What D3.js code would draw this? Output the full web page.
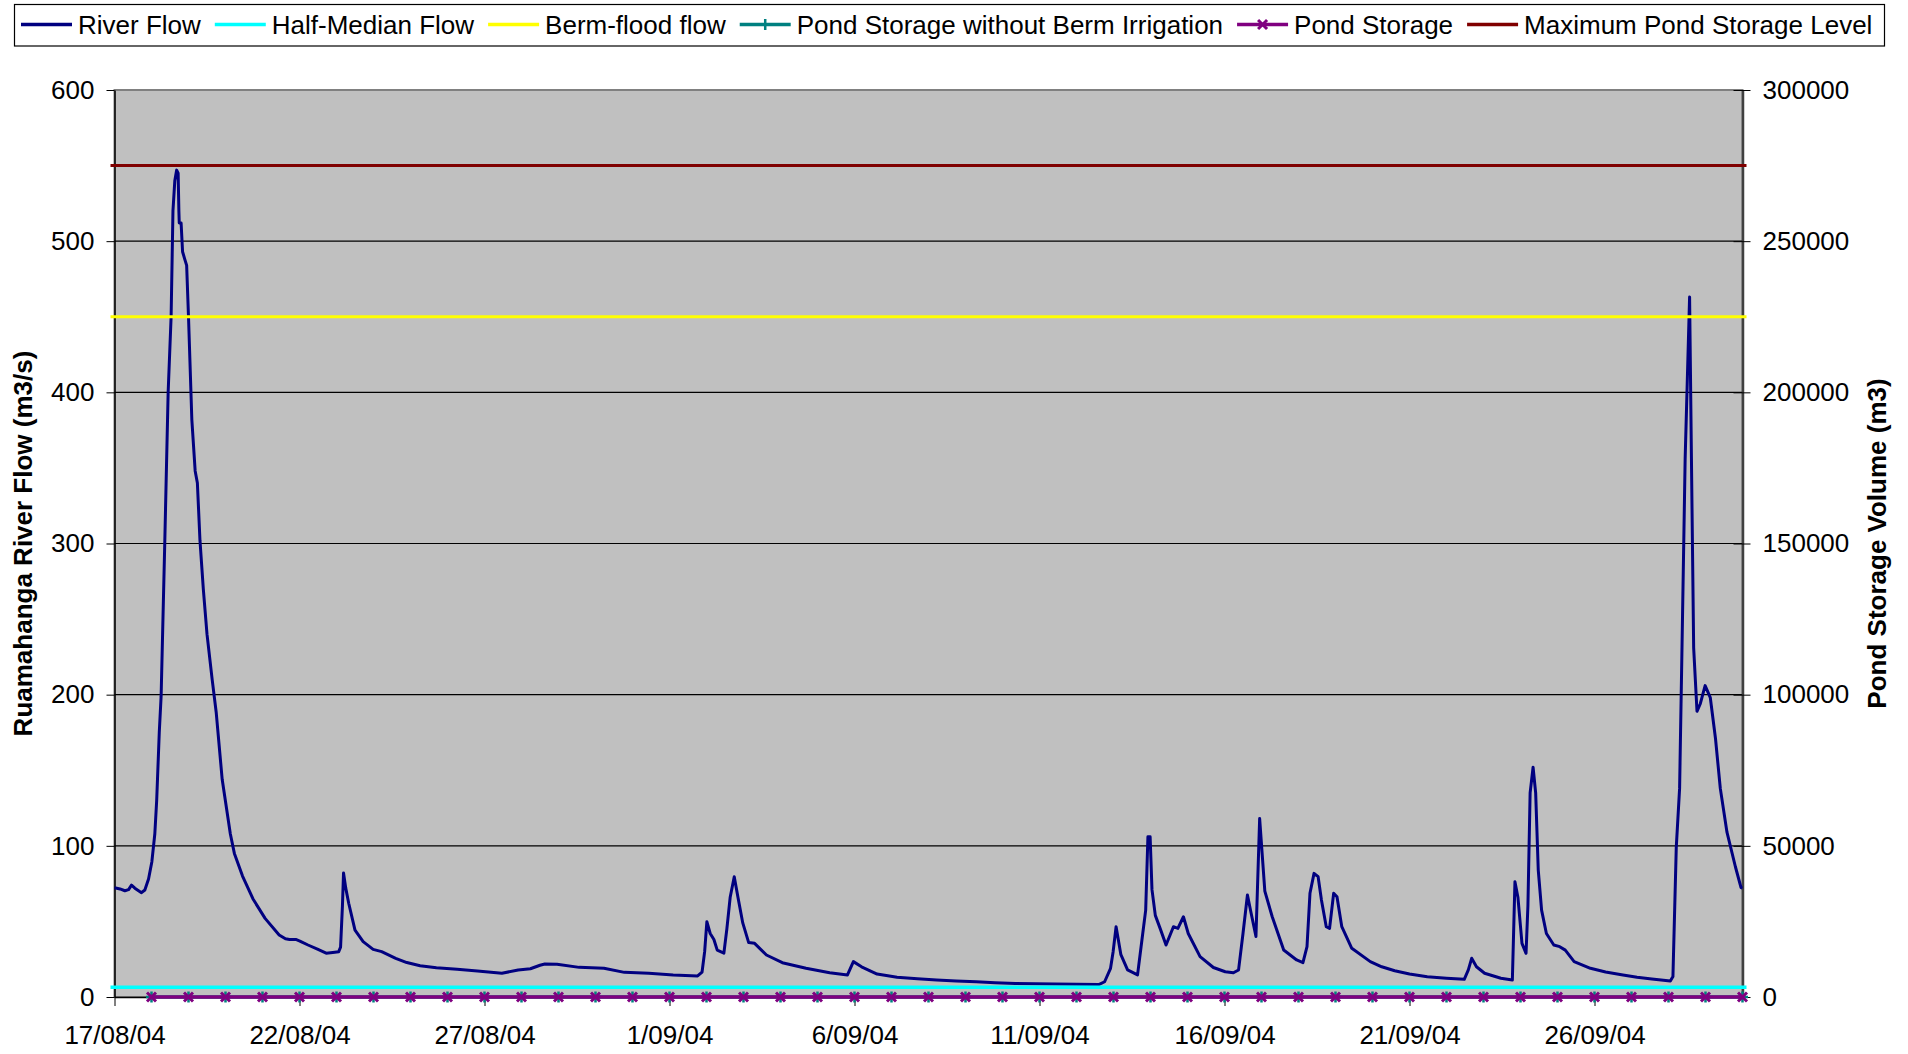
<!DOCTYPE html>
<html>
<head>
<meta charset="utf-8">
<script src="https://cdn.jsdelivr.net/npm/d3@7"></script>
<style>
body{margin:0;background:#ffffff;}
text{font-family:"Liberation Sans",Arial,sans-serif;}
</style>
</head>
<body>
<svg id="chart" width="1908" height="1054"></svg>
<script>
// chart values
var startDate = "17/08/04";
var endDate = "30/09/04";
var xTickLabels = ["17/08/04","22/08/04","27/08/04","1/09/04","6/09/04","11/09/04","16/09/04","21/09/04","26/09/04"];
var flowTicks = [0,100,200,300,400,500,600];
var storageTicks = [0,50000,100000,150000,200000,250000,300000];

// river flow, days after 17/08/04 and m3/s
var riverDay = [0,0.15,0.28,0.38,0.46,0.55,0.73,0.82,0.92,1.01,1.09,1.14,1.21,1.26,1.36,1.45,1.53,1.58,1.63,1.68,1.72,1.74,1.75,1.80,1.84,1.90,1.95,2.00,2.09,2.18,2.24,2.31,2.40,2.50,2.64,2.75,2.91,3.13,3.24,3.46,3.74,4.07,4.45,4.62,4.73,4.90,5.01,5.23,5.50,5.72,5.90,6.06,6.11,6.16,6.19,6.25,6.33,6.50,6.72,6.99,7.22,7.60,7.90,8.26,8.70,9.26,9.81,10.47,10.91,11.24,11.50,11.63,11.96,12.56,13.23,13.78,14.44,15.10,15.76,15.88,15.95,16.01,16.10,16.20,16.29,16.47,16.55,16.64,16.75,16.85,16.98,17.14,17.30,17.62,18.05,18.69,19.33,19.81,19.97,20.19,20.61,21.15,21.70,22.22,22.75,23.29,23.80,24.35,24.90,25.42,26.00,26.60,26.76,26.92,26.99,27.07,27.20,27.38,27.65,27.77,27.87,27.93,27.99,28.04,28.13,28.26,28.42,28.62,28.74,28.89,29.02,29.34,29.70,30.02,30.24,30.38,30.50,30.62,30.72,30.85,30.95,31.09,31.29,31.60,31.95,32.12,32.23,32.31,32.42,32.53,32.62,32.75,32.84,32.95,33.04,33.17,33.44,33.94,34.25,34.60,35.00,35.48,36.00,36.48,36.59,36.68,36.81,37.03,37.47,37.78,37.85,37.93,38.04,38.15,38.20,38.26,38.34,38.41,38.48,38.57,38.70,38.90,39.06,39.21,39.45,39.89,40.30,40.77,41.15,41.55,42.05,42.12,42.21,42.30,42.36,42.45,42.57,42.62,42.68,42.77,42.86,42.99,43.13,43.27,43.40,43.58,43.81,43.96,44.00];
var riverFlow = [72.3,71.5,70.3,71,74,72,69,70.8,78,89.5,108,130,175,199,302,400,450,520,540,547,545,520,512,512,493,488,484,450,382,348,340,302,270,240,210,188,144,108,95,80,65,52,41,38.5,38.1,38.1,37,34.4,31.5,29,29.5,30,33,60,82,72,62,44.3,36.6,31.5,30,25.6,22.8,20.7,19.4,18.3,17.2,15.7,17.9,18.7,21,21.8,21.6,19.6,19,16.3,15.7,14.6,13.9,16.5,30,49.8,42,38,31,29,45,66,79.6,66,49,36,35.5,27.8,22.7,19,16,14.6,23.4,20,15.2,13,12,11.2,10.6,10.1,9.5,9,8.8,8.6,8.4,8.2,10.1,19,30,46.5,28,17.9,14.6,38,57.5,106,106,71,54,45.4,34.4,46.5,45.4,53.1,42,26.7,19.5,16.7,16,17.9,42,67.5,55.4,40,118,70,53.1,31.1,24.5,22.7,33.3,68.6,81.8,79.6,64.2,46.5,45.4,68.6,66.3,46.5,32.2,23.4,20,17.4,15.2,13.4,12.4,11.7,17.9,25.6,20,15.7,12.4,11.2,76.3,66,35.5,28.9,60,135,152,135,84,57.5,42,34.4,33.3,31,23.4,19,16.5,14.6,13.1,11.9,10.6,13.5,99,138,224,356,463,356,231,189,194,206,198,171,138,109,86,72.4,72];

var halfMedianFlow = 6.4;
var bermFloodFlow = 450;
var maxPondStorage = 275000;
// daily pond storage, 18/08/04 to 30/09/04 (m3)
var pondStorage = [0,0,0,0,0,0,0,0,0,0,0,0,0,0,0,0,0,0,0,0,0,0,0,0,0,0,0,0,0,0,0,0,0,0,0,0,0,0,0,0,0,0,0,0];
var pondStorageNoBerm = [0,0,0,0,0,0,0,0,0,0,0,0,0,0,0,0,0,0,0,0,0,0,0,0,0,0,0,0,0,0,0,0,0,0,0,0,0,0,0,0,0,0,0,0];

var legendNames = ["River Flow","Half-Median Flow","Berm-flood flow","Pond Storage without Berm Irrigation","Pond Storage","Maximum Pond Storage Level"];
var legendColors = ["#000080","#00ffff","#ffff00","#008080","#800080","#800000"];
var legendMarkers = ["","","","plus","cross",""];

var parseDay = d3.timeParse("%d/%m/%y");
var fmtDay = d3.timeFormat("%-d/%m/%y");
var t0 = parseDay(startDate);
var t1 = parseDay(endDate);

var plotL = 114.5, plotR = 1742.5, plotT = 90, plotB = 997;
var svg = d3.select("#chart");

var x = d3.scaleTime().domain([t0,t1]).range([plotL,plotR]);
var yL = d3.scaleLinear().domain([0,600]).range([plotB,plotT]);
var yR = d3.scaleLinear().domain([0,300000]).range([plotB,plotT]);

// plot area
svg.append("rect").attr("x",plotL).attr("y",plotT).attr("width",plotR-plotL).attr("height",plotB-plotT)
  .attr("fill","#c0c0c0").attr("stroke","#808080").attr("stroke-width",2);

// grid
svg.append("g").selectAll("line").data(flowTicks.filter(d=>d>0 && d<600)).enter().append("line")
  .attr("x1",plotL).attr("x2",plotR).attr("y1",d=>yL(d)).attr("y2",d=>yL(d))
  .attr("stroke","#000000").attr("stroke-width",1.2);

// axes
var axL = svg.append("g").attr("transform","translate("+plotL+",0)")
  .call(d3.axisLeft(yL).tickValues(flowTicks).tickSize(8).tickPadding(12).tickSizeOuter(0));
axL.select(".domain").attr("stroke","#000000").attr("stroke-width",1.5);
axL.selectAll("text").attr("font-size",26).attr("fill","#000");

var axR = svg.append("g").attr("transform","translate("+plotR+",0)")
  .call(d3.axisRight(yR).tickValues(storageTicks).tickFormat(d3.format("d")).tickSize(8).tickPadding(12).tickSizeOuter(0));
axR.select(".domain").attr("stroke","#404040").attr("stroke-width",2.5);
axR.selectAll(".tick line").attr("x1",-9);
axR.selectAll("text").attr("font-size",26).attr("fill","#000");

var axB = svg.append("g").attr("transform","translate(0,"+plotB+")")
  .call(d3.axisBottom(x).tickValues(xTickLabels.map(parseDay)).tickFormat(fmtDay).tickSize(9).tickPadding(20).tickSizeOuter(0));
axB.select(".domain").attr("stroke","#000000").attr("stroke-width",1.5);
axB.selectAll("text").attr("font-size",26).attr("fill","#000");

// river flow
var dayToDate = d => new Date(t0.getTime()+d*86400000);
var riverPts = riverDay.map((d,i)=>[dayToDate(d),riverFlow[i]]);
svg.append("path").datum(riverPts)
  .attr("d",d3.line().x(d=>x(d[0])).y(d=>yL(d[1])))
  .attr("fill","none").attr("stroke","#000080").attr("stroke-width",3).attr("stroke-linejoin","round");

// constant levels
var over = 4;
function hline(yv,col,w){
  svg.append("line").attr("x1",plotL-over).attr("x2",plotR+over).attr("y1",yv).attr("y2",yv)
    .attr("stroke",col).attr("stroke-width",w);
}
hline(yL(halfMedianFlow),"#00ffff",3.5);
hline(yL(bermFloodFlow),"#ffff00",3);
hline(yR(maxPondStorage),"#800000",3);

// pond storage series (daily)
var pondDates = d3.timeDay.range(d3.timeDay.offset(t0,1),d3.timeDay.offset(t1,1));
var lineR = d3.line().x(d=>x(d[0])).y(d=>yR(d[1]));
var noBermPts = pondDates.map((d,i)=>[d,pondStorageNoBerm[i]]);
var pondPts = pondDates.map((d,i)=>[d,pondStorage[i]]);
svg.append("path").datum(noBermPts).attr("d",lineR).attr("fill","none").attr("stroke","#008080").attr("stroke-width",3.5);
function plusPath(cx,cy,s){return "M"+(cx-s)+","+cy+"H"+(cx+s)+"M"+cx+","+(cy-s)+"V"+(cy+s);}
function crossPath(cx,cy,s){return "M"+(cx-s)+","+(cy-s)+"L"+(cx+s)+","+(cy+s)+"M"+(cx-s)+","+(cy+s)+"L"+(cx+s)+","+(cy-s);}
svg.append("g").selectAll("path").data(noBermPts).enter().append("path")
  .attr("d",d=>plusPath(x(d[0]),yR(d[1]),5.5)).attr("stroke","#008080").attr("stroke-width",2.5);
svg.append("path").datum(pondPts).attr("d",lineR).attr("fill","none").attr("stroke","#800080").attr("stroke-width",3.5);
svg.append("g").selectAll("path").data(pondPts).enter().append("path")
  .attr("d",d=>crossPath(x(d[0]),yR(d[1]),4.5)).attr("stroke","#800080").attr("stroke-width",3);

// axis titles
svg.append("text").attr("transform","translate(32,"+((plotT+plotB)/2)+") rotate(-90)")
  .attr("text-anchor","middle").attr("font-size",26).attr("font-weight","bold").text("Ruamahanga River Flow (m3/s)");
svg.append("text").attr("transform","translate(1886,"+((plotT+plotB)/2)+") rotate(-90)")
  .attr("text-anchor","middle").attr("font-size",26).attr("font-weight","bold").text("Pond Storage Volume (m3)");

// legend
var leg = svg.append("g");
leg.append("rect").attr("x",14.5).attr("y",4.5).attr("width",1870).attr("height",41.5)
  .attr("fill","#ffffff").attr("stroke","#000000").attr("stroke-width",1.2);
var lx = 21, ly = 24.5;
legendNames.forEach(function(name,i){
  leg.append("line").attr("x1",lx).attr("x2",lx+51).attr("y1",ly).attr("y2",ly)
    .attr("stroke",legendColors[i]).attr("stroke-width",3.5);
  if(legendMarkers[i]=="plus") leg.append("path").attr("d",plusPath(lx+25.5,ly,5.5)).attr("stroke",legendColors[i]).attr("stroke-width",2.5);
  if(legendMarkers[i]=="cross") leg.append("path").attr("d",crossPath(lx+25.5,ly,4.5)).attr("stroke",legendColors[i]).attr("stroke-width",3);
  var t = leg.append("text").attr("x",lx+57).attr("y",ly+9).attr("font-size",26).text(name);
  lx = lx+57+t.node().getComputedTextLength()+14;
});
</script>
</body>
</html>
